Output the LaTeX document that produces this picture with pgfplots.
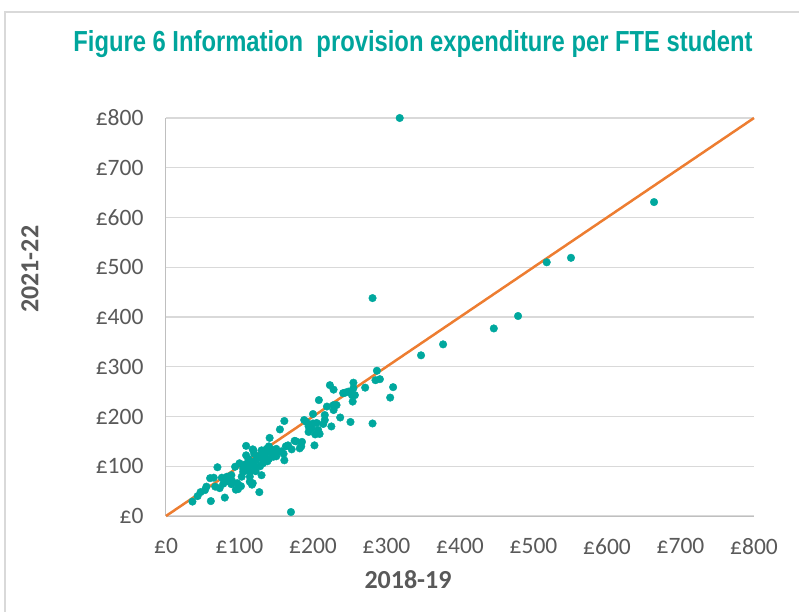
\documentclass[border=0pt]{standalone}
\usepackage{pgfplots}
\pgfplotsset{compat=1.18}
\usepackage{fontspec}
\setmainfont{Carlito}
\newfontfamily\titlefont{Liberation Sans}

\definecolor{tealdot}{HTML}{00A89E}
\definecolor{tealtitle}{HTML}{00A59C}
\definecolor{lineorange}{HTML}{ED7D31}
\definecolor{txtgray}{HTML}{595959}
\definecolor{gridgray}{HTML}{D9D9D9}
\definecolor{axgray}{HTML}{BFBFBF}

\begin{document}
\begin{tikzpicture}
    % page = whole chart area (799 x 611)
    \useasboundingbox (-166pt,-95pt) rectangle (633pt,516pt);
    \draw[gridgray, line width=1.5pt] (-161pt,-120pt) rectangle (660pt,504pt);

    \begin{axis}[
        at={(0pt,0pt)}, anchor=south west,
        scale only axis,
        width=588pt, height=398pt,
        xmin=0, xmax=800, ymin=0, ymax=800,
        xtick={0,100,...,800},
        ytick={0,100,...,800},
        xticklabels={£0,£100,£200,£300,£400,£500,£600,£700,£800},
        yticklabels={£0,£100,£200,£300,£400,£500,£600,£700,£800},
        axis x line*=bottom, axis y line*=left,
        axis line style={axgray, line width=1pt},
        major tick length=0pt,
        ymajorgrids, grid style={gridgray, line width=1.2pt},
        tick label style={font=\fontsize{23.5}{26}\selectfont, text=txtgray},
        xticklabel style={yshift=-19pt},
        yticklabel style={xshift=-19pt},
        title={\scalebox{0.82}[1]{\titlefont\bfseries\fontsize{29}{32}\selectfont Figure 6 Information\ \ provision expenditure per FTE student}},
        title style={at={(axis description cs:0.42,1.17)}, anchor=center, text=tealtitle},
        xlabel={2018-19},
        ylabel={2021-22},
        xlabel style={at={(axis description cs:0.4116,-0.1608)}, anchor=center,
            font=\bfseries\fontsize{26}{28}\selectfont, text=txtgray},
        ylabel style={at={(axis description cs:-0.2313,0.62)}, anchor=center, rotate=0,
            font=\bfseries\fontsize{26}{28}\selectfont, text=txtgray},
        clip=false,
    ]
        % 45-degree reference line
        \addplot[lineorange, line width=2.5pt] coordinates {(0,0) (800,800)};

        \addplot[only marks, mark=*, mark size=3.8pt, tealdot, mark options={draw=tealdot, fill=tealdot}] coordinates {
        (36,29) (43,40) (47,48) (53,52) (55,59) (61,30) (60,76) (65,77)
        (70,98) (67,59) (73,56) (76,77) (80,37) (83,79) (87,75) (89,64)
        (89,82) (94,99) (97,66) (98,54) (95,53) (100,106) (103,79) (105,89)
        (109,141) (109,122) (110,92) (112,99) (114,89) (114,79) (114,69) (117,63)
        (118,66) (118,134) (119,109) (119,132) (125,119) (127,48) (130,132) (130,122)
        (130,82) (132,116) (132,106) (137,129) (137,135) (141,157) (144,132) (146,119)
        (146,132) (153,129) (155,174) (161,191) (161,112) (166,142) (170,8) (171,134)
        (175,151) (177,150) (182,136) (184,140) (185,149) (188,193) (191,189) (194,169)
        (194,180) (198,176) (200,205) (200,186) (202,142) (203,164) (205,187) (207,173)
        (208,233) (209,165) (214,185) (216,193) (216,203) (219,220) (223,263) (225,180)
        (228,254) (228,223) (228,213) (232,223) (237,198) (241,247) (244,248) (248,250)
        (251,189) (253,243) (254,230) (255,268) (255,257) (257,243) (271,258) (281,186)
        (281,438) (285,273) (287,292) (291,275) (305,238) (309,259) (318,800) (347,323)
        (377,345) (446,377) (479,402) (518,510) (551,519) (664,631)
        (105,95) (108,104) (112,115) (120,125) (123,112) (128,100) (135,125) (140,140)
        (143,128) (148,125) (150,135) (157,130) (160,125) (163,140) (140,115) (120,100)
        (115,105) (138,110) (150,120) (122,90) (90,70) (102,60) (78,65) (84,70)
        };
    \end{axis}
\end{tikzpicture}
\end{document}
